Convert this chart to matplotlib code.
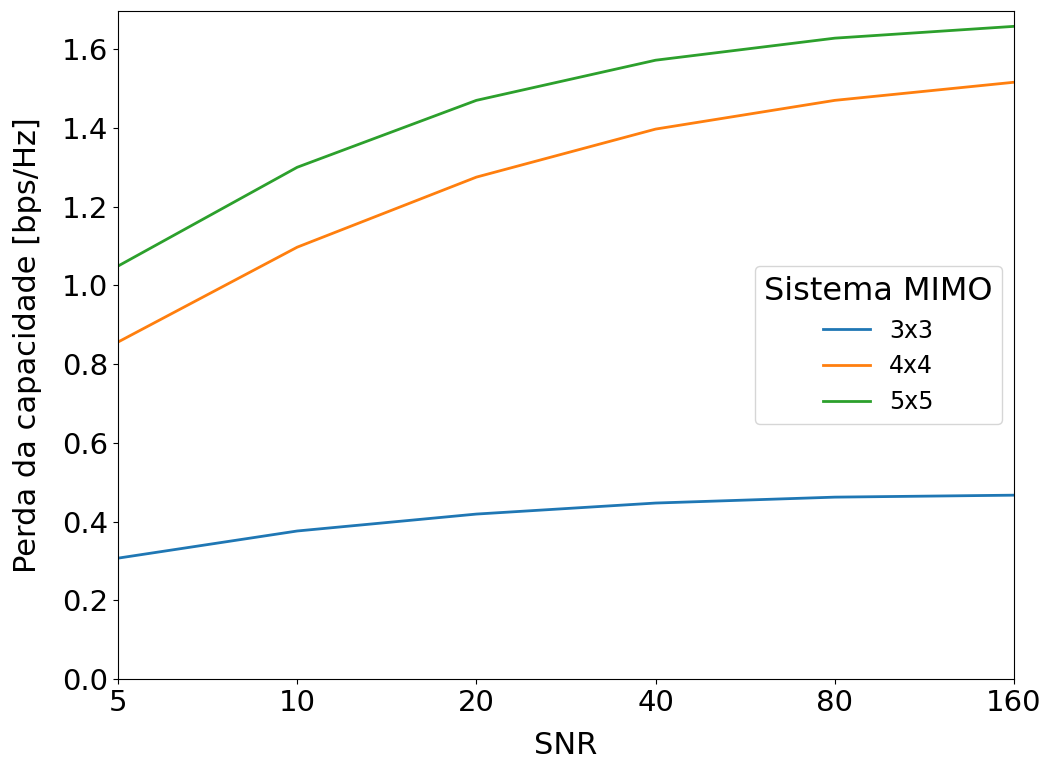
import numpy as np
import matplotlib
matplotlib.use("Agg")
import matplotlib.pyplot as plt

# SNR values and capacity loss per MIMO configuration
snr = [5, 10, 20, 40, 80, 160]
loss_3x3 = [0.307, 0.376, 0.419, 0.447, 0.462, 0.467]
loss_4x4 = [0.856, 1.097, 1.275, 1.397, 1.470, 1.516]
loss_5x5 = [1.049, 1.300, 1.470, 1.572, 1.628, 1.658]
labels = ["3x3", "4x4", "5x5"]

fig, ax = plt.subplots(figsize=(10.51, 7.66), dpi=100)
fig.subplots_adjust(left=118/1051, right=1014/1051, top=1-11/766, bottom=1-679/766)

for y, lab in zip([loss_3x3, loss_4x4, loss_5x5], labels):
    ax.plot(snr, y, label=lab, linewidth=2)

ax.set_xscale("log", base=2)
ax.set_xticks(snr)
ax.set_xticklabels([str(s) for s in snr])
ax.minorticks_off()
ax.set_xlim(5, 160)
ax.set_ylim(0, 1.697)
ax.tick_params(labelsize=21)
ax.set_xlabel("SNR", fontsize=22, labelpad=10)
ax.set_ylabel("Perda da capacidade [bps/Hz]", fontsize=22, labelpad=14)

leg = ax.legend(title="Sistema MIMO", loc="center right", fontsize=17, title_fontsize=23)

fig.savefig("out.png", dpi=100)
